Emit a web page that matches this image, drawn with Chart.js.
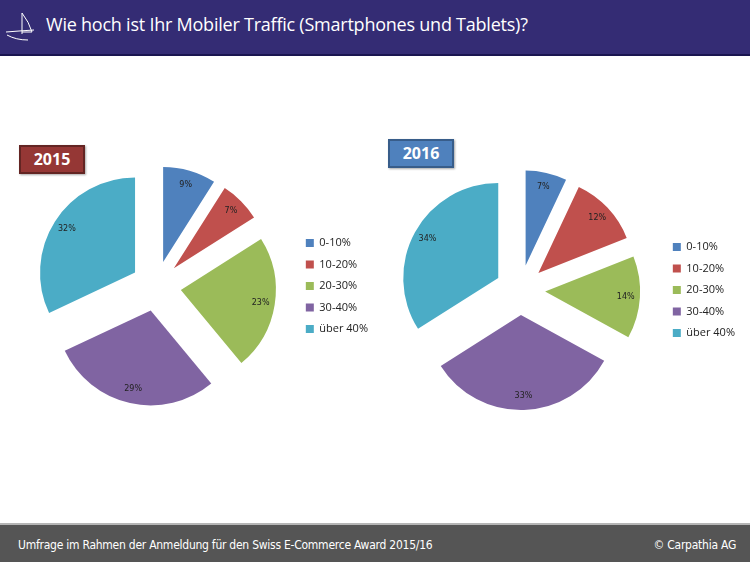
<!DOCTYPE html>
<html lang="de">
<head>
<meta charset="utf-8">
<title>Mobiler Traffic</title>
<script src="https://cdn.jsdelivr.net/npm/chart.js@4.4.1/dist/chart.umd.min.js"></script>
<style>
  html, body { margin: 0; padding: 0; }
  body { width: 750px; height: 562px; position: relative; overflow: hidden; background: #fff; font-family: "Open Sans", sans-serif; }
  .header { position: absolute; left: 0; top: 0; width: 750px; height: 54px; background: #342c74; border-bottom: 2px solid #1a1550; }
  .header h1 { position: absolute; left: 46px; top: 12px; margin: 0; font: 400 18px "Open Sans", sans-serif; color: #fff; letter-spacing: -0.23px; white-space: nowrap; }
  .header svg { position: absolute; left: 4px; top: 10px; }
  .footer { position: absolute; left: 0; top: 523px; width: 750px; height: 39px; background: #555; border-top: 2px solid #b5b5b5; color: #fff; font: 12px "Liberation Sans Narrow", "DejaVu Sans Condensed", sans-serif; letter-spacing: -0.25px; }
  .footer .left { position: absolute; left: 18px; top: 13px; }
  .footer .right { position: absolute; right: 14px; top: 13px; }
  .badge { position: absolute; width: 62px; height: 25px; color: #fff; font: bold 16px "Open Sans", sans-serif; text-align: center; line-height: 25px; box-shadow: 1px 1px 2px rgba(0,0,0,0.35); }
  .b2015 { left: 19px; top: 145px; background: #953735; border: 2px solid #632523; }
  .b2016 { left: 388px; top: 139px; background: #4f81bd; border: 2px solid #385d8a; }
  canvas { position: absolute; }
  #chart2015 { left: 17px; top: 141px; }
  #chart2016 { left: 378px; top: 145px; }
</style>
</head>
<body>
<div class="header">
  <svg width="34" height="34" viewBox="0 0 34 34">
    <g fill="none" stroke="#fff" stroke-width="1">
      <path d="M18 3 L18 24"/>
      <path d="M18 3 Q25 12 28 22 L18 22"/>
      <path d="M2 22 Q14 21 30 20"/>
      <path d="M3 25 Q12 30 24 30"/>
    </g>
  </svg>
  <h1>Wie hoch ist Ihr Mobiler Traffic (Smartphones und Tablets)?</h1>
</div>

<div class="badge b2015">2015</div>
<div class="badge b2016">2016</div>

<!-- pie area 278 / 284 wide, the legend takes about 83 on the right -->
<canvas id="chart2015" width="361" height="290"></canvas>
<canvas id="chart2016" width="367" height="290"></canvas>

<div class="footer">
  <span class="left">Umfrage im Rahmen der Anmeldung für den Swiss E-Commerce Award 2015/16</span>
  <span class="right">© Carpathia AG</span>
</div>

<script>
// Categories and shares (percent of respondents)
const categories = ['0-10%', '10-20%', '20-30%', '30-40%', 'über 40%'];
const values2015 = [9, 7, 23, 29, 32];
const values2016 = [7, 12, 14, 33, 34];
const sliceColors = ['#4f81bd', '#c0504d', '#9bbb59', '#8064a2', '#4bacc6'];

const EXPLODE_PX = 25;  // every slice pulled out by the same distance
const PIE_RADIUS = 95;

// Draw the arcs ourselves, each one shifted outwards along its bisector
const explodeSlices = {
    id: 'explodeSlices',
    beforeDatasetDraw(chart, args) {
        const ctx = chart.ctx;
        args.meta.data.forEach(arc => {
            const mid = (arc.startAngle + arc.endAngle) / 2;
            ctx.save();
            ctx.translate(Math.cos(mid) * EXPLODE_PX, Math.sin(mid) * EXPLODE_PX);
            arc.draw(ctx);
            ctx.restore();
        });
        return false;
    }
};

// Percentage labels inside each slice
const sliceLabels = {
    id: 'sliceLabels',
    afterDatasetsDraw(chart) {
        const ctx = chart.ctx;
        const meta = chart.getDatasetMeta(0);
        const data = chart.data.datasets[0].data;
        ctx.save();
        ctx.font = '8px "DejaVu Sans", sans-serif';
        ctx.fillStyle = '#222';
        ctx.textAlign = 'center';
        ctx.textBaseline = 'middle';
        meta.data.forEach((arc, i) => {
            const mid = (arc.startAngle + arc.endAngle) / 2;
            const dist = EXPLODE_PX + arc.outerRadius * 0.85;
            ctx.fillText(data[i] + '%', arc.x + Math.cos(mid) * dist, arc.y + Math.sin(mid) * dist);
        });
        ctx.restore();
    }
};

function makePie(canvasId, values) {
    const ctx = document.getElementById(canvasId).getContext('2d');
    return new Chart(ctx, {
        type: 'pie',
        data: {
            labels: categories,
            datasets: [{
                data: values,
                backgroundColor: sliceColors,
                borderWidth: 0
            }]
        },
        options: {
            responsive: false,
            animation: false,
            radius: PIE_RADIUS,
            layout: { padding: 0 },
            plugins: {
                tooltip: { enabled: false },
                legend: {
                    position: 'right',
                    labels: {
                        boxWidth: 8,
                        boxHeight: 8,
                        padding: 10.5,
                        color: '#222',
                        font: { family: '"Open Sans", sans-serif', size: 11 }
                    }
                }
            }
        },
        plugins: [explodeSlices, sliceLabels]
    });
}

makePie('chart2015', values2015);
makePie('chart2016', values2016);
</script>
</body>
</html>
